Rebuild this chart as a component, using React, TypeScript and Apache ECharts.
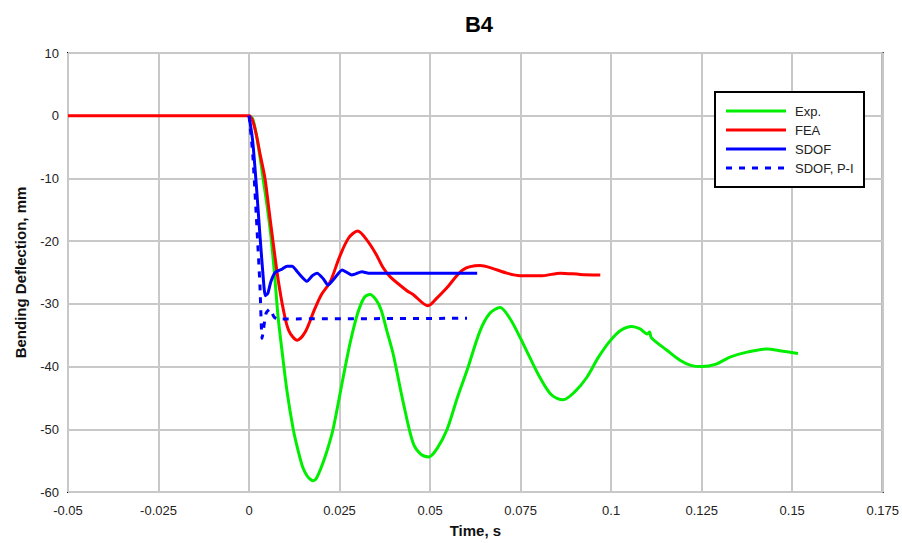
import React, { useEffect, useRef } from "react";
import * as echarts from "echarts";

const titleText = "B4";
const xAxisName = "Time, s";
const yAxisName = "Bending Deflection, mm";
const seriesNames = ["Exp.", "FEA", "SDOF", "SDOF, P-I"];
const seriesColors = ["#00ee00", "#ff0000", "#0000ff", "#0000ff"];

const expT = [0, 0.001, 0.002, 0.003, 0.004, 0.005, 0.006, 0.007, 0.008, 0.009, 0.0105, 0.0122, 0.0135, 0.0148, 0.016, 0.017, 0.0178, 0.0186, 0.0198, 0.0215, 0.0232, 0.026, 0.028, 0.03, 0.0318, 0.0334, 0.035, 0.0365, 0.038, 0.0398, 0.0425, 0.0453, 0.0475, 0.0497, 0.052, 0.0547, 0.0575, 0.0602, 0.0638, 0.0665, 0.0693, 0.072, 0.0748, 0.0775, 0.0803, 0.0835, 0.0867, 0.09, 0.0933, 0.0965, 0.0997, 0.1027, 0.1057, 0.108, 0.11, 0.1106, 0.1111, 0.1154, 0.119, 0.122, 0.125, 0.129, 0.1328, 0.1375, 0.143, 0.147, 0.1516];
const expY = [0, -0.5, -3, -6.5, -10.5, -14.5, -19, -25, -32, -37, -44, -50, -53.3, -56, -57.4, -58, -58.2, -57.8, -56.3, -53.5, -50, -41.7, -36, -31.5, -29, -28.5, -29.3, -31, -34.2, -38, -45.5, -52.2, -54, -54.4, -53, -50, -45, -40.6, -34.3, -31.5, -30.6, -32.3, -35.3, -38.5, -41.7, -44.5, -45.3, -44, -41.7, -38.5, -35.9, -34.2, -33.6, -34, -34.8, -34.5, -35.4, -37.4, -39, -39.8, -40, -39.6, -38.5, -37.7, -37.2, -37.5, -37.9];

const feaT = [-0.05, 0, 0.001, 0.002, 0.003, 0.0044, 0.0055, 0.0066, 0.008, 0.0095, 0.011, 0.0133, 0.0155, 0.018, 0.02, 0.0224, 0.025, 0.0275, 0.03, 0.0325, 0.035, 0.037, 0.039, 0.0436, 0.0453, 0.0494, 0.052, 0.0547, 0.059, 0.0638, 0.067, 0.0712, 0.0748, 0.078, 0.081, 0.086, 0.0914, 0.097];
const feaY = [0, 0, -0.8, -3, -6, -10, -15, -20, -26, -31, -34.3, -35.8, -34.5, -31, -28.5, -26.5, -22.5, -19.5, -18.4, -19.8, -22, -24.2, -25.7, -27.9, -28.5, -30.3, -29, -27.4, -24.6, -23.9, -24.3, -25.1, -25.5, -25.5, -25.5, -25.1, -25.3, -25.4];

const sdofT = [0, 0.001, 0.002, 0.003, 0.0038, 0.0045, 0.0052, 0.006, 0.0072, 0.009, 0.0105, 0.0119, 0.0135, 0.016, 0.0175, 0.0188, 0.0205, 0.0218, 0.0235, 0.0257, 0.0284, 0.0312, 0.033, 0.063];
const sdofY = [0, -4, -11, -19, -25, -28.7, -28.3, -26.5, -25, -24.5, -24, -24, -25, -26.4, -25.5, -25.1, -26, -27, -26, -24.6, -25.4, -24.9, -25.1, -25.1];

const sdofPIT = [0, 0.001, 0.002, 0.003, 0.0036, 0.004, 0.0047, 0.0058, 0.0068, 0.0077, 0.0602];
const sdofPIY = [0, -6, -16, -27, -35.5, -34, -31.5, -30.8, -32, -32.4, -32.3];

const xTicks = { min: -0.05, max: 0.175, interval: 0.025 };
const yTicks = { min: -60, max: 10, interval: 10 };

const zip = (t: number[], y: number[]) => t.map((v, i) => [v, y[i]]);

export default function App() {
  const ref = useRef<HTMLDivElement>(null);
  useEffect(() => {
    if (!ref.current) return;
    const chart = echarts.init(ref.current, undefined, { renderer: "svg" });
    const font = "Arial, 'Liberation Sans', sans-serif";
    const legendX = 715;
    const legendY = 92;
    const legendItems: any[] = [];
    seriesNames.forEach((name, i) => {
      const cy = legendY + 19 + i * 19;
      legendItems.push({
        type: "line",
        shape: { x1: legendX + 11, y1: cy, x2: legendX + 71, y2: cy },
        style: { stroke: seriesColors[i], lineWidth: 3, lineDash: i === 3 ? [6, 7] : null },
      });
      legendItems.push({
        type: "text",
        x: legendX + 80,
        y: cy,
        style: { text: name, font: `13px ${font}`, fill: "#222", textVerticalAlign: "middle", verticalAlign: "middle" },
      });
    });
    chart.setOption({
      animation: false,
      backgroundColor: "#fff",
      title: {
        text: titleText,
        left: 474,
        top: 8,
        textAlign: "center",
        textStyle: { fontFamily: font, fontSize: 22, fontWeight: "bold", color: "#000" },
      },
      grid: {
        left: 68,
        right: 19,
        top: 53,
        bottom: 48,
        show: true,
        borderColor: "#000",
        borderWidth: 2,
        backgroundColor: "transparent",
      },
      graphic: [
        {
          type: "rect",
          shape: { x: legendX, y: legendY, width: 149, height: 95 },
          style: { fill: "#fff", stroke: "#000", lineWidth: 2 },
          z: 100,
        },
        ...legendItems.map((it) => ({ ...it, z: 101 })),
      ],
      xAxis: {
        type: "value",
        min: xTicks.min,
        max: xTicks.max,
        interval: xTicks.interval,
        name: xAxisName,
        nameLocation: "middle",
        nameGap: 31,
        nameTextStyle: { fontFamily: font, fontSize: 15, fontWeight: "bold", color: "#111" },
        axisLine: { show: false },
        axisTick: { show: false },
        axisLabel: {
          fontFamily: font,
          fontSize: 13,
          color: "#222",
          margin: 12,
          formatter: (v: number) => String(parseFloat(v.toFixed(4))),
        },
        splitLine: { show: true, lineStyle: { color: "#c8c8c8", width: 2 } },
      },
      yAxis: {
        type: "value",
        min: yTicks.min,
        max: yTicks.max,
        interval: yTicks.interval,
        name: yAxisName,
        nameLocation: "middle",
        nameGap: 40,
        nameTextStyle: { fontFamily: font, fontSize: 15, fontWeight: "bold", color: "#111" },
        axisLine: { show: false },
        axisTick: { show: false },
        axisLabel: { fontFamily: font, fontSize: 13, color: "#222", margin: 9 },
        splitLine: { show: true, lineStyle: { color: "#c8c8c8", width: 2 } },
      },
      series: [
        {
          name: seriesNames[0],
          type: "line",
          data: zip(expT, expY),
          smooth: 0.3,
          symbol: "none",
          lineStyle: { color: seriesColors[0], width: 3 },
        },
        {
          name: seriesNames[1],
          type: "line",
          data: zip(feaT, feaY),
          smooth: 0.3,
          symbol: "none",
          lineStyle: { color: seriesColors[1], width: 3 },
        },
        {
          name: seriesNames[2],
          type: "line",
          data: zip(sdofT, sdofY),
          smooth: 0.2,
          symbol: "none",
          lineStyle: { color: seriesColors[2], width: 3 },
        },
        {
          name: seriesNames[3],
          type: "line",
          data: zip(sdofPIT, sdofPIY),
          smooth: 0.2,
          symbol: "none",
          lineStyle: { color: seriesColors[3], width: 3, type: [6, 7] },
        },
      ],
    });
    return () => chart.dispose();
  }, []);
  return <div ref={ref} style={{ width: 902, height: 543, position: "absolute", left: 0, top: 0 }} />;
}
